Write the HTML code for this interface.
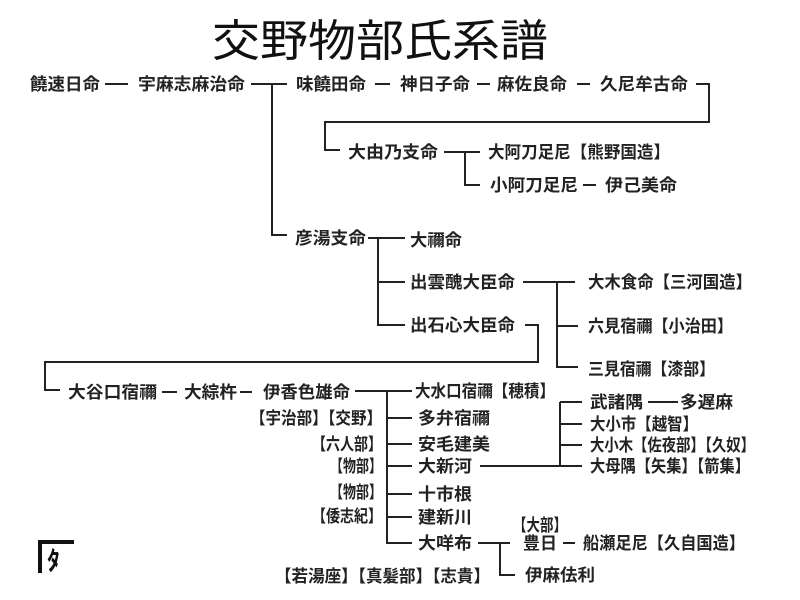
<!DOCTYPE html>
<html><head><meta charset="utf-8"><style>
html,body{margin:0;padding:0;background:#fff;}
svg{display:block}
text{font-family:"Liberation Sans","Noto Sans CJK JP",sans-serif;font-weight:bold;fill:#222;font-size:17px}
.t{font-weight:normal;font-size:44px;fill:#111}
</style></head><body>
<svg width="800" height="600" xmlns="http://www.w3.org/2000/svg">
<text class="t" x="212" y="56" textLength="336" lengthAdjust="spacingAndGlyphs">交野物部氏系譜</text>
<g stroke="#222" stroke-width="2" fill="none">
<path d="M105 84H128M251 84H287M272 84V235H287M375 84H390M477 84H490M577 84H590"/>
<path d="M696 84H709V122H325V150H340M444 152H480M465 152V185H480"/>
<path d="M368 238H405M378 238V325H405M378 282H405"/>
<path d="M523 282H575M557 282V367H578M557 326H578"/>
<path d="M525 325H538V362H45V390H60"/>
<path d="M162 392H177M240 392H252M355 391H412M387 391V543H412M387 418H412M387 444H412M387 466H412M387 494H412M387 517H412"/>
<path d="M480 466H582M560 402V466M560 402H582M560 424H582M560 445H582M648 402H678"/>
<path d="M478 543H510M500 543V575H515M563 543H575M583 185H596"/>
</g>
<g style="font-size:17px">
<text x="30" y="90" textLength="70" lengthAdjust="spacingAndGlyphs">饒速日命</text>
<text x="138" y="90" textLength="107" lengthAdjust="spacingAndGlyphs">宇麻志麻治命</text>
<text x="296" y="90" textLength="70" lengthAdjust="spacingAndGlyphs">味饒田命</text>
<text x="400" y="90" textLength="70" lengthAdjust="spacingAndGlyphs">神日子命</text>
<text x="497" y="90" textLength="70" lengthAdjust="spacingAndGlyphs">麻佐良命</text>
<text x="600" y="90" textLength="88" lengthAdjust="spacingAndGlyphs">久尼牟古命</text>
<text x="348" y="158" textLength="90" lengthAdjust="spacingAndGlyphs">大由乃支命</text>
<text x="488" y="158" textLength="182" lengthAdjust="spacingAndGlyphs">大阿刀足尼【熊野国造】</text>
<text x="490" y="191" textLength="88" lengthAdjust="spacingAndGlyphs">小阿刀足尼</text>
<text x="605" y="191" textLength="72" lengthAdjust="spacingAndGlyphs">伊己美命</text>
<text x="295" y="244" textLength="71" lengthAdjust="spacingAndGlyphs">彦湯支命</text>
<text x="410" y="246" textLength="52" lengthAdjust="spacingAndGlyphs">大禰命</text>
<text x="410" y="288" textLength="105" lengthAdjust="spacingAndGlyphs">出雲醜大臣命</text>
<text x="410" y="331" textLength="105" lengthAdjust="spacingAndGlyphs">出石心大臣命</text>
<text x="588" y="288" textLength="164" lengthAdjust="spacingAndGlyphs">大木食命【三河国造】</text>
<text x="588" y="332" textLength="145" lengthAdjust="spacingAndGlyphs">六見宿禰【小治田】</text>
<text x="588" y="375" textLength="127" lengthAdjust="spacingAndGlyphs">三見宿禰【漆部】</text>
<text x="68" y="398" textLength="89" lengthAdjust="spacingAndGlyphs">大谷口宿禰</text>
<text x="184" y="398" textLength="53" lengthAdjust="spacingAndGlyphs">大綜杵</text>
<text x="263" y="398" textLength="87" lengthAdjust="spacingAndGlyphs">伊香色雄命</text>
<text x="415" y="397" textLength="140" lengthAdjust="spacingAndGlyphs">大水口宿禰【穂積】</text>
<text x="418" y="424" textLength="72" lengthAdjust="spacingAndGlyphs">多弁宿禰</text>
<text x="418" y="450" textLength="72" lengthAdjust="spacingAndGlyphs">安毛建美</text>
<text x="418" y="472" textLength="54" lengthAdjust="spacingAndGlyphs">大新河</text>
<text x="418" y="500" textLength="54" lengthAdjust="spacingAndGlyphs">十市根</text>
<text x="418" y="523" textLength="54" lengthAdjust="spacingAndGlyphs">建新川</text>
<text x="418" y="549" textLength="54" lengthAdjust="spacingAndGlyphs">大咩布</text>
<text x="250" y="424" textLength="132" lengthAdjust="spacingAndGlyphs">【宇治部】【交野】</text>
<text x="312" y="450" textLength="70" lengthAdjust="spacingAndGlyphs">【六人部】</text>
<text x="330" y="472" textLength="52" lengthAdjust="spacingAndGlyphs">【物部】</text>
<text x="330" y="498" textLength="52" lengthAdjust="spacingAndGlyphs">【物部】</text>
<text x="312" y="522" textLength="70" lengthAdjust="spacingAndGlyphs">【倭志紀】</text>
<text x="275" y="582" textLength="215" lengthAdjust="spacingAndGlyphs">【若湯座】【真髪部】【志貴】</text>
<text x="590" y="408" textLength="53" lengthAdjust="spacingAndGlyphs">武諸隅</text>
<text x="680" y="408" textLength="53" lengthAdjust="spacingAndGlyphs">多遅麻</text>
<text x="590" y="430" textLength="108" lengthAdjust="spacingAndGlyphs">大小市【越智】</text>
<text x="590" y="451" textLength="165" lengthAdjust="spacingAndGlyphs">大小木【佐夜部】【久奴】</text>
<text x="590" y="472" textLength="160" lengthAdjust="spacingAndGlyphs">大母隅【矢集】【箭集】</text>
<text x="513" y="531" textLength="54" lengthAdjust="spacingAndGlyphs">【大部】</text>
<text x="523" y="549" textLength="34" lengthAdjust="spacingAndGlyphs">豊日</text>
<text x="583" y="549" textLength="162" lengthAdjust="spacingAndGlyphs">船瀬足尼【久自国造】</text>
<text x="525" y="581" textLength="70" lengthAdjust="spacingAndGlyphs">伊麻佉利</text>
</g>
<path d="M40 573V542H74" stroke="#111" stroke-width="4" fill="none"/>
<text x="47" y="570" style="font-size:26px;font-weight:bold;fill:#111">ﾀ</text>
</svg>
</body></html>
